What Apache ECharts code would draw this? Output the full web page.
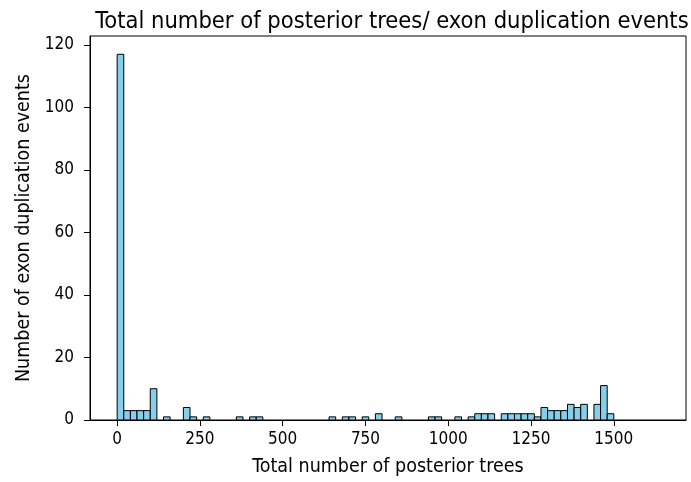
<!DOCTYPE html>
<html>
<head>
<meta charset="utf-8">
<script src="https://cdn.jsdelivr.net/npm/echarts@6/dist/echarts.min.js"></script>
<style>
  html, body { margin: 0; padding: 0; background: #fff; }
  #chart { width: 691px; height: 482px; }
</style>
</head>
<body>
<div id="chart"></div>
<script>
// histogram bins of width 20 starting at 0
const binWidth = 20
const counts = [
  117, 3, 3, 3, 3, 10, 0, 1, 0, 0,
  4, 1, 0, 1, 0, 0, 0, 0, 1, 0,
  1, 1, 0, 0, 0, 0, 0, 0, 0, 0,
  0, 0, 1, 0, 1, 1, 0, 1, 0, 2,
  0, 0, 1, 0, 0, 0, 0, 1, 1, 0,
  0, 1, 0, 1, 2, 2, 2, 0, 2, 2,
  2, 2, 2, 1, 4, 3, 3, 3, 5, 4,
  5, 0, 5, 11, 2, 0, 0, 0, 0, 0,
  0, 0
]
const xTicks = [0, 250, 500, 750, 1000, 1250, 1500]
const yTicks = [0, 20, 40, 60, 80, 100, 120]

const font = "'DejaVu Sans Condensed', 'DejaVu Sans', sans-serif"

const bins = []
counts.forEach((c, i) => {
  if (c > 0) bins.push([i * binWidth, (i + 1) * binWidth, c])
})

const chart = echarts.init(document.getElementById('chart'))

const renderBar = (params, api) => {
  const p0 = api.coord([api.value(0), 0])
  const p1 = api.coord([api.value(1), api.value(2)])
  return {
    type: 'rect',
    shape: { x: p0[0], y: p1[1], width: p1[0] - p0[0], height: p0[1] - p1[1] },
    style: { fill: '#87CEEB', stroke: '#000', lineWidth: 1 }
  }
}

const option = {
  animation: false,
  title: {
    text: 'Total number of posterior trees/ exon duplication events',
    left: 387,
    top: 5,
    textAlign: 'center',
    textStyle: { fontFamily: font, fontSize: 23.5, fontWeight: 'normal', color: '#000' }
  },
  grid: {
    left: 90, right: 5, top: 36, bottom: 58,
    show: true, borderColor: '#000', borderWidth: 1
  },
  xAxis: {
    type: 'value',
    min: -82,
    max: 1718,
    name: 'Total number of posterior trees',
    nameLocation: 'middle',
    nameGap: 37,
    nameTextStyle: { fontFamily: font, fontSize: 19.5, color: '#000' },
    splitLine: { show: false },
    axisLine: { onZero: false, lineStyle: { color: '#000', width: 1 } },
    axisTick: { length: 6, lineStyle: { color: '#000' }, customValues: xTicks },
    axisLabel: {
      margin: 11, fontFamily: font, fontSize: 17, color: '#000',
      customValues: xTicks, formatter: v => String(v)
    }
  },
  yAxis: {
    type: 'value',
    min: 0,
    max: 122.85,
    name: 'Number of exon duplication events',
    nameLocation: 'middle',
    nameGap: 55,
    nameTextStyle: { fontFamily: font, fontSize: 19.5, color: '#000' },
    splitLine: { show: false },
    axisLine: { show: true, onZero: false, lineStyle: { color: '#000', width: 1 } },
    axisTick: { show: true, inside: false, length: 6, lineStyle: { color: '#000' }, customValues: yTicks },
    axisLabel: {
      margin: 16, fontFamily: font, fontSize: 17, color: '#000',
      customValues: yTicks, formatter: v => String(v)
    }
  },
  series: [{
    type: 'custom',
    renderItem: renderBar,
    encode: { x: [0, 1], y: 2 },
    data: bins
  }]
}
chart.setOption(option)
</script>
</body>
</html>
